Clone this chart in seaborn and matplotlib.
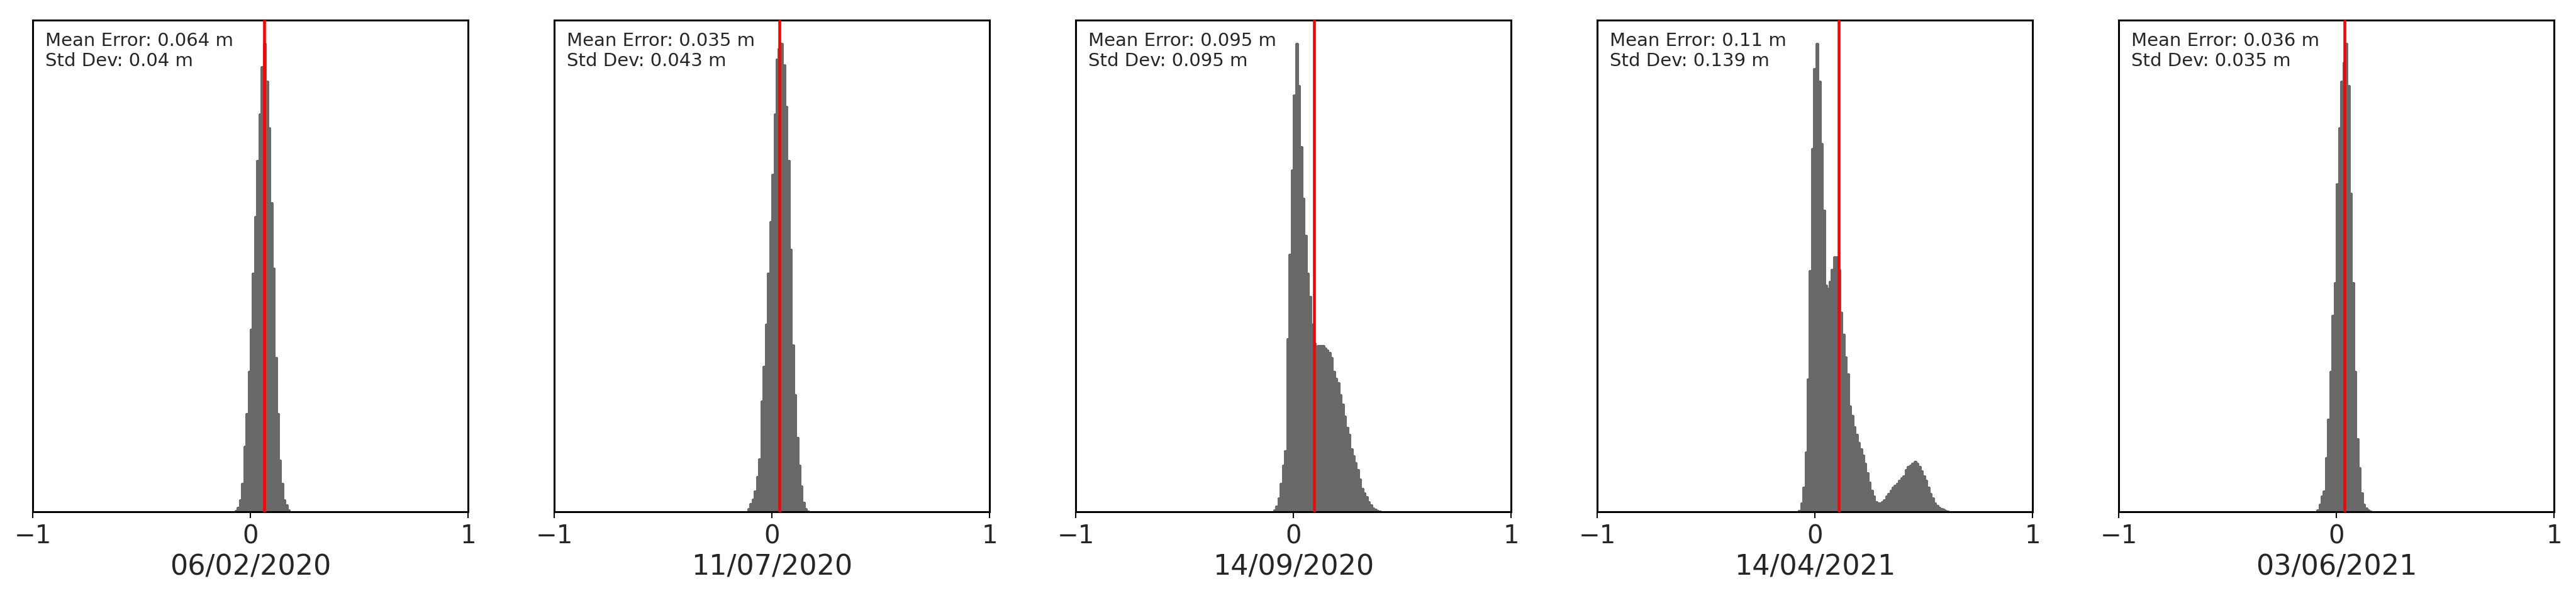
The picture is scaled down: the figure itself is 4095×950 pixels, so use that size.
import numpy as np
import pandas as pd
import matplotlib
matplotlib.use("Agg")
import matplotlib.pyplot as plt
import seaborn as sns

sns.set_style("ticks")
plt.rcParams['font.family'] = ['DejaVu Sans']

# survey dates and error statistics (m)
dates = ["06/02/2020", "11/07/2020", "14/09/2020", "14/04/2021", "03/06/2021"]
mean_err = [0.064, 0.035, 0.095, 0.11, 0.036]
std_dev = [0.04, 0.043, 0.095, 0.139, 0.035]

# histogram bins: width 0.01 m, left edge of first bin per survey
bin_width = 0.01
first_edge = [-0.07, -0.11, -0.09, -0.075, -0.09]

# bin heights (relative, tallest bin = 100)
counts_0602 = [0.3, 1, 2.5, 6, 14, 21, 30, 39, 51, 63, 75, 85, 95, 100, 92, 82,
               66, 52, 33, 21, 11, 6, 2.5, 1.5, 0.4]
counts_1107 = [0.7, 1.7, 2.7, 4.5, 7.5, 11.3, 23.6, 31, 40, 51, 62, 72, 85, 96.6,
               99, 100, 95.5, 86.6, 75, 56, 35.6, 25, 15.8, 10, 5.5, 2, 0.7, 0.15]
counts_1409 = [0.4, 1.2, 3, 6, 10, 13, 37, 55, 73, 89, 100, 91, 78, 67, 59, 51,
               46, 40, 36, 35, 35.5, 35.5, 35.5, 35, 34.5, 34, 33, 30, 28.5, 27.5,
               25, 23, 20.5, 18, 16.5, 13.5, 12, 10.5, 9, 7, 5, 4, 3.2, 2.2, 1.5,
               0.8, 0.5, 0.3, 0.1]
counts_1404 = [0.3, 1.9, 5.3, 12.8, 28.4, 51.5, 77.6, 94.7, 100, 92, 78.6, 64.4,
               48.4, 47.7, 49.2, 51.8, 54.5, 54.5, 51.8, 42.6, 37.9, 33.1, 29.4,
               22.6, 20.6, 18.2, 16.5, 14.8, 13.4, 12.1, 10.4, 8.4, 6.3, 4.6, 3.3,
               2.2, 1.9, 1.9, 2.2, 2.6, 3.3, 3.9, 4.6, 5.3, 5.6, 6.0, 6.7, 7.3, 7.7,
               9.0, 9.7, 10.0, 10.4, 10.7, 10.4, 9.7, 8.7, 7.7, 6.7, 5.3, 3.9, 2.9,
               1.9, 1.4, 1.0, 0.7, 0.5, 0.3, 0.1]
counts_0306 = [0.4, 1.6, 3.3, 4.5, 11.5, 19.7, 30, 42, 49, 70, 82, 92, 96, 100,
               91, 68, 49, 30, 15.6, 9.4, 4.1, 1.6, 0.8, 0.4, 0.2]

all_counts = [counts_0602, counts_1107, counts_1409, counts_1404, counts_0306]

fig = plt.figure(figsize=(40.95, 9.5), dpi=100)
axes = fig.subplots(1, 5)
fig.subplots_adjust(left=0.0127, right=0.9915, bottom=0.1442, top=0.9663,
                    wspace=0.198)

for ax, date, m, s, start, counts in zip(axes, dates, mean_err, std_dev,
                                         first_edge, all_counts):
    n = len(counts)
    centers = start + bin_width * (np.arange(n) + 0.5)
    df = pd.DataFrame({"error": centers, "count": counts})
    # no antialiasing on the bars, so neighbouring bars leave no seams
    sns.histplot(data=df, x="error", weights="count", bins=n,
                 binrange=(start, start + n * bin_width),
                 element="bars", fill=True, color="#696969", alpha=1,
                 edgecolor="#696969", linewidth=0.8, antialiased=False,
                 ax=ax, zorder=1)
    ax.axvline(m, color="red", linewidth=3.3, zorder=3)
    ax.text(0.029, 0.976, f"Mean Error: {m} m\nStd Dev: {s} m",
            transform=ax.transAxes, ha="left", va="top", fontsize=21, zorder=4)
    ax.set_xlim(-1, 1)
    ax.set_xticks([-1, 0, 1])
    ax.set_yticks([])
    ax.set_ylabel("")
    ax.set_xlabel(date, fontsize=32, labelpad=5)
    ax.tick_params(axis="x", labelsize=29, length=7, width=1.5, pad=7,
                   direction="out", color="black")
    for sp in ax.spines.values():
        sp.set_visible(True)
        sp.set_linewidth(2.2)
        sp.set_color("black")

fig.savefig("out.png", dpi=100)
